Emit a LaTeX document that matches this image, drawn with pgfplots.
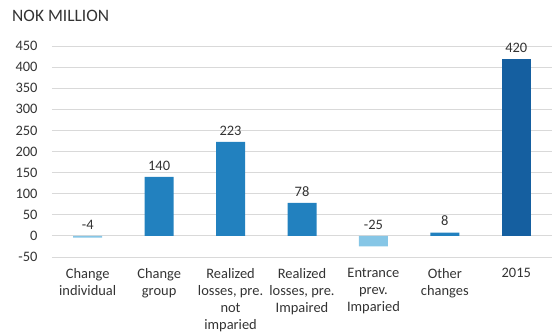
\documentclass[border=0pt]{standalone}
\usepackage{pgfplots}
\pgfplotsset{compat=1.18}
\usepackage{fontspec}
\setmainfont{Carlito}
\definecolor{midblue}{HTML}{2281BF}
\definecolor{lightblue}{HTML}{86C6E6}
\definecolor{darkblue}{HTML}{155FA0}
\definecolor{gridgray}{HTML}{D9D9D9}
\definecolor{txt}{HTML}{333333}
\begin{document}
\begin{tikzpicture}
\begin{axis}[
  scale only axis,
  width=500bp, height=211bp,
  xmin=-0.5, xmax=6.5,
  ymin=-50, ymax=450,
  ytick={-50,0,50,...,450},
  xtick={0,1,2,3,4,5,6},
  xticklabels={{Change\\individual},{Change\\group},{Realized\\losses, pre.\\not\\imparied},{Realized\\losses, pre.\\Impaired},{Entrance\\prev.\\Imparied},{Other\\changes},{2015}},
  axis line style={draw=none},
  major tick length=0pt,
  ymajorgrids,
  grid style={gridgray, line width=0.8bp},
  /pgf/number format/assume math mode=true,
  tick label style={font=\fontsize{14.5}{17}\selectfont, text=txt},
  yticklabel style={xshift=-11bp},
  xticklabel style={align=center, yshift=-8bp, text depth=0pt},
  ybar, bar width=29bp,
  title={NOK MILLION},
  title style={at={(0,1)}, anchor=base west, xshift=-40bp, yshift=19bp, font=\fontsize{17.5}{20}\selectfont, text=txt, inner sep=0pt},
  nodes near coords style={font=\fontsize{14.5}{17.5}\selectfont, text=txt},
  every node near coord/.append style={anchor=south, yshift=3bp},
]
\addplot[bar shift=0pt, fill=midblue, draw=none, nodes near coords] coordinates {(1,140) (2,223) (3,78) (5,8)};
\addplot[bar shift=0pt, fill=lightblue, draw=none] coordinates {(0,-4) (4,-25)};
\addplot[bar shift=0pt, fill=darkblue, draw=none, nodes near coords] coordinates {(6,420)};
\addplot[bar shift=0pt, draw=none, fill=none, nodes near coords, point meta=explicit symbolic] coordinates {(0,0) [-4] (4,0) [-25]};
\end{axis}
\pgfresetboundingbox
\path[use as bounding box] ([shift={(-52bp,-75bp)}]current axis.south west) rectangle ([shift={(0bp,46bp)}]current axis.north east);
\end{tikzpicture}
\end{document}
